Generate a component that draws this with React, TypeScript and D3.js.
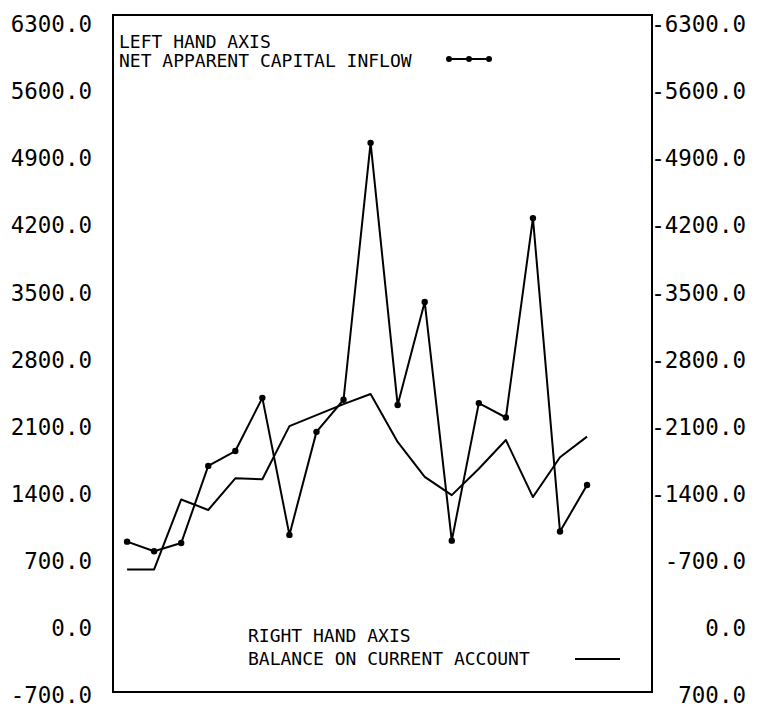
import { useEffect, useRef } from 'react';
import * as d3 from 'd3';

// periods along the x axis (no labels shown on the original plot)
const periods = ['1', '2', '3', '4', '5', '6', '7', '8', '9', '10', '11', '12', '13', '14', '15', '16', '17', '18'];

// left hand axis series
const capitalInflow = [900, 800, 885, 1690, 1845, 2400, 970, 2045, 2380, 5060, 2325, 3400, 910, 2345, 2195, 4275, 1005, 1490];

// right hand axis series (axis runs inverted)
const currentBalance = [-610, -610, -1340, -1230, -1560, -1550, -2105, -2220, -2335, -2440, -1940, -1575, -1385, -1660, -1960, -1365, -1780, -1995];

const leftTicks = [6300, 5600, 4900, 4200, 3500, 2800, 2100, 1400, 700, 0, -700];
const rightTicks = [-6300, -5600, -4900, -4200, -3500, -2800, -2100, -1400, -700, 0, 700];

const W = 768;
const H = 709;

export default function App() {
    const svgRef = useRef(null);

    useEffect(() => {
        const svg = d3.select(svgRef.current);
        svg.selectAll('*').remove();

        const box = { left: 113, right: 652, top: 15, bottom: 692 };

        const x = d3.scaleLinear()
            .domain([-0.52, periods.length + 1.4])
            .range([box.left, box.right]);
        const yLeft = d3.scaleLinear().domain([-700, 6300]).range([695, 24]);
        const yRight = d3.scaleLinear().domain([700, -6300]).range([695, 24]);

        const monoFont = '"DejaVu Sans Mono", "Liberation Mono", monospace';

        // frame
        svg.append('rect')
            .attr('x', box.left)
            .attr('y', box.top)
            .attr('width', box.right - box.left)
            .attr('height', box.bottom - box.top)
            .attr('fill', 'none')
            .attr('stroke', '#000')
            .attr('stroke-width', 2);

        // left axis labels
        svg.append('g')
            .selectAll('text')
            .data(leftTicks)
            .enter()
            .append('text')
            .attr('x', 92)
            .attr('y', d => yLeft(d))
            .attr('dy', '0.36em')
            .attr('text-anchor', 'end')
            .attr('font-family', monoFont)
            .attr('font-size', 22.5)
            .attr('fill', '#000')
            .text(d => d.toFixed(1));

        // right axis labels
        svg.append('g')
            .selectAll('text')
            .data(rightTicks)
            .enter()
            .append('text')
            .attr('x', 746)
            .attr('y', d => yRight(d))
            .attr('dy', '0.36em')
            .attr('text-anchor', 'end')
            .attr('font-family', monoFont)
            .attr('font-size', 22.5)
            .attr('fill', '#000')
            .text(d => d.toFixed(1));

        // balance on current account (right axis)
        const balanceLine = d3.line()
            .x((d, i) => x(i))
            .y(d => yRight(d));

        svg.append('path')
            .datum(currentBalance)
            .attr('d', balanceLine)
            .attr('fill', 'none')
            .attr('stroke', '#000')
            .attr('stroke-width', 2)
            .attr('stroke-linejoin', 'round');

        // net apparent capital inflow (left axis)
        const inflowLine = d3.line()
            .x((d, i) => x(i))
            .y(d => yLeft(d));

        svg.append('path')
            .datum(capitalInflow)
            .attr('d', inflowLine)
            .attr('fill', 'none')
            .attr('stroke', '#000')
            .attr('stroke-width', 2)
            .attr('stroke-linejoin', 'round');

        svg.append('g')
            .selectAll('circle')
            .data(capitalInflow)
            .enter()
            .append('circle')
            .attr('cx', (d, i) => x(i))
            .attr('cy', d => yLeft(d))
            .attr('r', 3.2)
            .attr('fill', '#000');

        // top legend
        const top = svg.append('g')
            .attr('font-family', monoFont)
            .attr('font-size', 18)
            .attr('fill', '#000');
        top.append('text').attr('x', 119).attr('y', 48).text('LEFT HAND AXIS');
        top.append('text').attr('x', 119).attr('y', 67).text('NET APPARENT CAPITAL INFLOW');
        top.append('line')
            .attr('x1', 449).attr('x2', 489)
            .attr('y1', 59).attr('y2', 59)
            .attr('stroke', '#000').attr('stroke-width', 2);
        [449, 469, 489].forEach(cx => {
            top.append('circle').attr('cx', cx).attr('cy', 59).attr('r', 3).attr('fill', '#000');
        });

        // bottom legend
        const bottom = svg.append('g')
            .attr('font-family', monoFont)
            .attr('font-size', 18)
            .attr('fill', '#000');
        bottom.append('text').attr('x', 248).attr('y', 642).text('RIGHT HAND AXIS');
        bottom.append('text').attr('x', 248).attr('y', 665).text('BALANCE ON CURRENT ACCOUNT');
        bottom.append('line')
            .attr('x1', 575).attr('x2', 620)
            .attr('y1', 659).attr('y2', 659)
            .attr('stroke', '#000').attr('stroke-width', 2);
    }, []);

    return (
        <svg
            ref={svgRef}
            width={W}
            height={H}
            style={{ position: 'absolute', left: 0, top: 0, background: '#fff' }}
        />
    );
}
